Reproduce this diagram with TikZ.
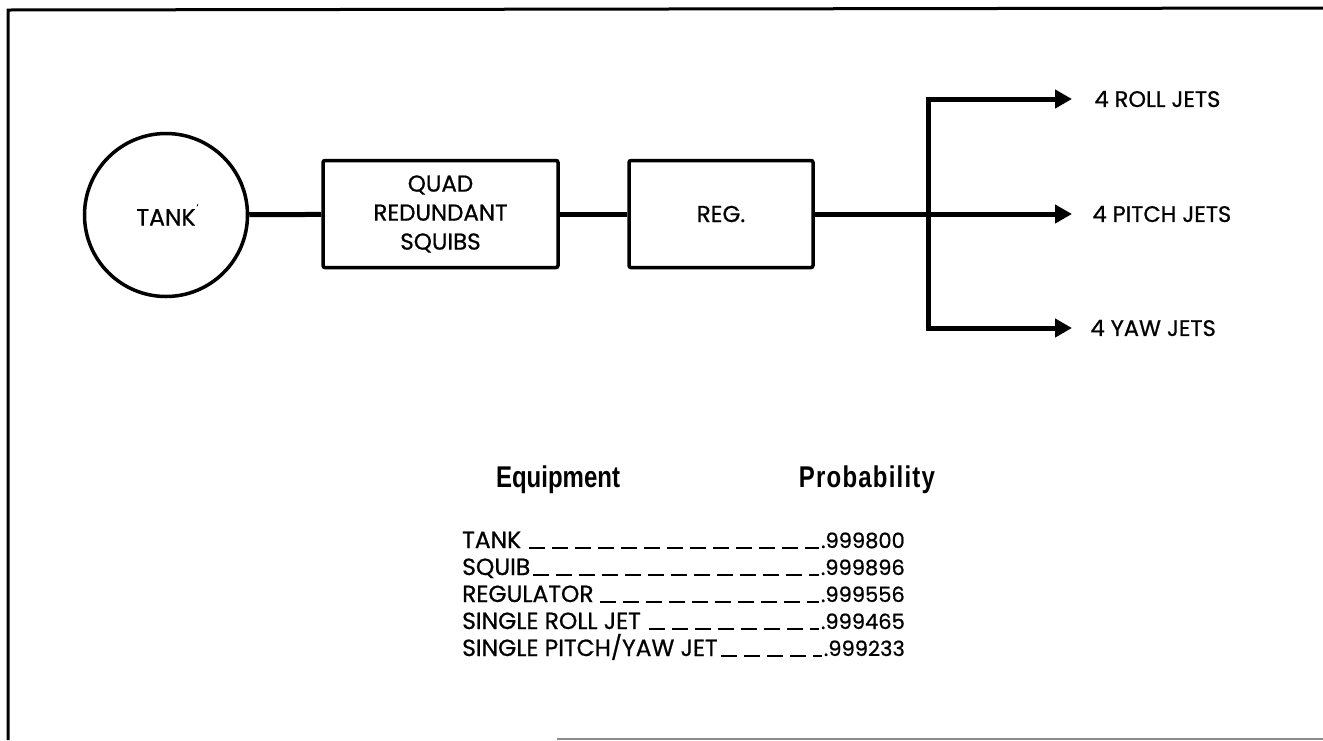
\documentclass[tikz,border=0pt]{standalone}
\usepackage{fontspec}
\setmainfont{Poppins}[UprightFeatures={FakeBold=0.8}]
\newfontfamily\headfont[FakeStretch=0.8]{Liberation Sans}
\usetikzlibrary{arrows.meta}
\tikzset{
  conn/.style={line width=5pt},
  arr/.style={line width=5pt,-{Triangle[length=17pt,width=18pt]}},
  blockbox/.style={draw,line width=3.5pt,rounded corners=2pt,minimum width=#1,minimum height=107pt,align=center,inner sep=0pt,font=\fontsize{23}{29}\selectfont},
  lbl/.style={anchor=west,font=\fontsize{22.5}{26}\selectfont},
  row/.style={anchor=base west,font=\fontsize{23.4}{26}\selectfont,inner sep=0pt},
  val/.style={anchor=base east,font=\fontsize{21}{26}\selectfont,inner sep=0pt},
  head/.style={anchor=base,font=\headfont\bfseries\fontsize{30}{34}\selectfont,inner sep=0pt},
  lead/.style={line width=1.6pt,dash pattern=on 16pt off 7pt},
  frame/.style={line width=3pt}
}
\begin{document}
\begin{tikzpicture}[x=1pt,y=-1pt]
\useasboundingbox (0,0) rectangle (1323,740);
% frame
\draw[frame] (8,740) -- (8,10) -- (1323,8);
\draw[line width=2pt,black!45] (557,739) -- (1323,739);
% blocks
\node[draw,circle,line width=3.5pt,minimum size=163pt,inner sep=0pt,font=\fontsize{23.5}{26}\selectfont] (tank) at (166,215) {TANK\rlap{\raisebox{1.2ex}{\fontsize{8}{8}\selectfont\kern1pt'}}};
\node[blockbox=235pt] (squib) at (440.5,214) {QUAD\\REDUNDANT\\SQUIBS};
\node[blockbox=184pt] (reg) at (721,214) {REG.};
\coordinate (j) at (928,214);
\coordinate (jt) at (928,99);
\coordinate (jb) at (928,328);
\coordinate (et) at (1072,99);
\coordinate (em) at (1072,214);
\coordinate (eb) at (1072,328);
\draw[conn] (tank) -- (squib);
\draw[conn] (squib) -- (reg);
\draw[conn] (reg.east) -- (j);
\draw[line width=5pt] (jt) -- (jb);
\draw[arr] ([xshift=-2.5pt]jt) -- (et);
\draw[arr] (j) -- (em);
\draw[arr] ([xshift=-2.5pt]jb) -- (eb);
\node[lbl] (roll) at (1091,99) {4 ROLL JETS};
\node[lbl] (pitch) at (1089,214) {4 PITCH JETS};
\node[lbl] (yaw) at (1087,328) {4 YAW JETS};
% table
\node[head] (h1) at (558,487) {Equipment};
\node[head] (h2) at (867,487) {\addfontfeature{LetterSpace=4}Probability};
\node[row] (r1) at (462,548) {TANK};
\node[row] (r2) at (462,575) {SQUIB};
\node[row] (r3) at (462,602) {REGULATOR};
\node[row] (r4) at (462,629) {SINGLE ROLL JET};
\node[row] (r5) at (462,656) {SINGLE PITCH/YAW JET};
\node[val] (v1) at (905,548) {.999800};
\node[val] (v2) at (905,575) {.999896};
\node[val] (v3) at (905,602) {.999556};
\node[val] (v4) at (905,629) {.999465};
\node[val] (v5) at (905,656) {.999233};
\draw[lead] ([xshift=8pt]r1.base east) -- ([xshift=-2pt]v1.base west);
\draw[lead] ([xshift=3pt]r2.base east) -- ([xshift=-2pt]v2.base west);
\draw[lead] ([xshift=6pt]r3.base east) -- ([xshift=-2pt]v3.base west);
\draw[lead] ([xshift=8pt]r4.base east) -- ([xshift=-2pt]v4.base west);
\draw[lead] ([xshift=3pt]r5.base east) -- ([xshift=-2pt]v5.base west);
\end{tikzpicture}
\end{document}
